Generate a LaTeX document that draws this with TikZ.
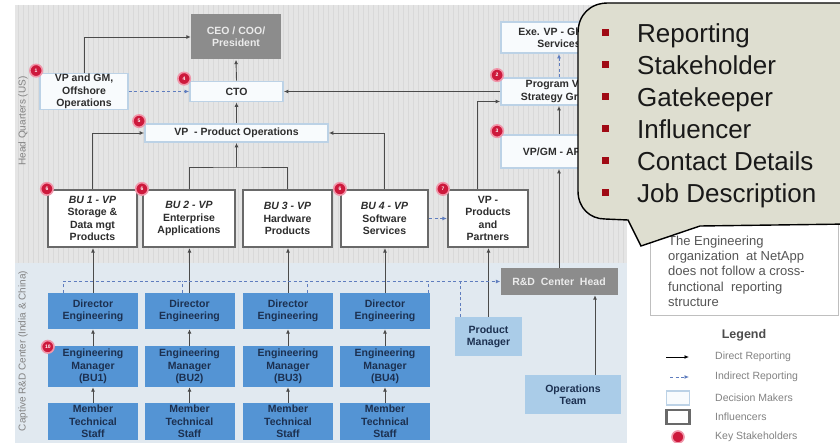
\documentclass[tikz,border=0pt]{standalone}
\usepackage{fontspec}
\setmainfont{Liberation Sans}
\usetikzlibrary{arrows.meta,positioning}

\definecolor{hqgray}{RGB}{229,229,229}
\definecolor{hqstripe}{RGB}{217,217,217}
\definecolor{rdback}{RGB}{225,233,240}
\definecolor{dmline}{RGB}{188,210,230}
\definecolor{dmfill}{RGB}{248,251,253}
\definecolor{inflgray}{RGB}{105,105,105}
\definecolor{boxtext}{RGB}{45,45,45}
\definecolor{darkfill}{RGB}{140,140,140}
\definecolor{engblue}{RGB}{84,148,212}
\definecolor{ltblue}{RGB}{170,204,232}
\definecolor{engtext}{RGB}{28,48,80}
\definecolor{linegray}{RGB}{75,75,75}
\definecolor{indblue}{RGB}{95,125,190}
\definecolor{badgered}{RGB}{205,25,60}
\definecolor{badgepink}{RGB}{240,150,170}
\definecolor{callfill}{RGB}{222,222,208}
\definecolor{bulletred}{RGB}{160,10,20}
\definecolor{notegray}{RGB}{85,85,85}
\definecolor{leggray}{RGB}{130,130,130}

\newcommand{\boxfont}{\fontsize{10.5}{12.3}\selectfont\bfseries}

\tikzset{
  sz/.style 2 args={minimum width=#1, minimum height=#2},
  conn/.style={draw=linegray, line width=0.9pt, -{Latex[length=4.5pt,width=4pt]}},
  plainline/.style={draw=linegray, line width=0.9pt},
  indir/.style={draw=indblue, line width=0.9pt, dash pattern=on 3pt off 2.5pt, -{Latex[length=4.5pt,width=4pt]}},
  indirline/.style={draw=indblue, line width=0.9pt, dash pattern=on 3pt off 2.5pt},
  deci/.style={draw=dmline, line width=1.8pt, fill=dmfill, inner sep=0pt, align=center, font=\boxfont, text=boxtext},
  infl/.style={draw=inflgray, line width=2.2pt, fill=white, inner sep=0pt, align=center, font=\boxfont, text=boxtext},
  darkbox/.style={fill=darkfill, inner sep=0pt, align=center, font=\boxfont, text=white!92!black},
  engbox/.style={fill=engblue, inner sep=0pt, align=center, font=\boxfont, text=engtext},
  ltbox/.style={fill=ltblue, inner sep=0pt, align=center, font=\boxfont, text=engtext},
  badge/.style={circle, fill=badgered, draw=badgepink, line width=1.6pt, minimum size=12.5pt, inner sep=0pt, font=\fontsize{5}{5}\selectfont\bfseries, text=white},
  sidelabel/.style={font=\fontsize{10}{10}\selectfont, text=leggray, inner sep=0pt},
  legtext/.style={font=\fontsize{10.5}{12}\selectfont, text=leggray, inner sep=0pt, anchor=west},
  callout/.style={fill=callfill, draw=black, line width=1.4pt},
  sqbullet/.style={fill=bulletred, minimum size=7pt, inner sep=0pt},
  calltext/.style={font=\fontsize{26}{26}\selectfont, text=black!90, inner sep=0pt}
}

\begin{document}
\begin{tikzpicture}[x=1pt, y=-1pt]
\useasboundingbox (0,0) rectangle (840,443);
\fill[white] (0,0) rectangle (840,443);

% backgrounds
\fill[hqgray] (15,5) rectangle (627,263);
\foreach \sx in {18,23,...,625}
  \draw[hqstripe, line width=0.6pt] (\sx,5) -- (\sx,263);
\fill[rdback] (15,263) rectangle (627,443);
\node[sidelabel, rotate=90] (hqlab) at (23,121) {Head Quarters (US)};
\node[sidelabel, rotate=90] (rdlab) at (23,351) {Captive R\&D Center (India \& China)};

% head quarters
\node[darkbox, sz={90}{45}] (ceo) at (236,37) {CEO / COO/\\President};
\node[deci, sz={88}{36}] (offvp) at (84,91.5) {VP and GM,\\Offshore\\Operations};
\node[deci, sz={93}{20}] (cto) at (236.5,91.5) {CTO};
\node[deci, sz={183}{18}] (vppo) at (236.5,133) {VP\ \ - Product Operations};
\node[deci, sz={116}{31}] (exevp) at (559,37.5) {Exe. VP - Global\\Services};
\node[deci, sz={116}{27}] (progvp) at (559,91.5) {Program VP -\\Strategy Group};
\node[deci, sz={116}{33}] (vpgm) at (559,151.5) {VP/GM - APAC};

\node[infl, sz={89}{57}] (bu1) at (92.5,218.5) {\textit{BU 1 - VP}\\Storage \&\\Data mgt\\Products};
\node[infl, sz={92}{57}] (bu2) at (189,218.5) {\textit{BU 2 - VP}\\Enterprise\\Applications};
\node[infl, sz={89}{57}] (bu3) at (287.5,218.5) {\textit{BU 3 - VP}\\Hardware\\Products};
\node[infl, sz={87}{57}] (bu4) at (384.5,218.5) {\textit{BU 4 - VP}\\Software\\Services};
\node[infl, sz={80}{57}] (vpprod) at (488,218.5) {VP -\\Products\\and\\Partners};

\draw[conn] (offvp.north) |- (ceo.west);
\draw[indir] (offvp.east) -- (cto.west);
\draw[conn] (cto.north) -- (ceo.south);
\draw[conn] (vppo.north) -- (cto.south);
\draw[conn] (progvp.west) -- (cto.east);
\draw[indir] (progvp.north) -- (exevp.south);
\draw[conn] (vpgm.north) -- (progvp.south);
\draw[conn] ([xshift=-11pt]vpprod.north) |- ([yshift=-10pt]progvp.west);
\draw[conn] (bu1.north) |- (vppo.west);
\draw[conn] (bu4.north) |- (vppo.east);
\coordinate (bujoin) at (236.5,167);
\draw[plainline] (bu2.north) |- (bujoin) -| (bu3.north);
\draw[conn] (bujoin) -- (vppo.south);
\draw[indir] (bu4.east) -- (vpprod.west);

% captive R&D center
\foreach \c/\x in {1/93,2/189.5,3/288,4/385}{
  \node[engbox, sz={90}{36}] (dir\c) at (\x,311) {Director\\Engineering};
  \node[engbox, sz={90}{41}] (em\c) at (\x,366.5) {Engineering\\Manager\\(BU\c)};
  \node[engbox, sz={90}{37}] (mts\c) at (\x,421.5) {Member\\Technical\\Staff};
  \draw[conn] (dir\c.north) -- (dir\c.north |- bu\c.south);
  \draw[conn] (em\c.north) -- (dir\c.south);
  \draw[conn] (mts\c.north) -- (em\c.south);
}
\node[darkbox, sz={117}{27}] (rdhead) at (559,281.5) {R\&D\ \ Center\ \ Head};
\node[ltbox, sz={67}{39}] (prodmgr) at (488.5,336.5) {Product\\Manager};
\node[ltbox, sz={96}{39}] (opsteam) at (573,394.5) {Operations\\Team};

\draw[conn] (rdhead.north) -- (vpgm.south);
\draw[conn] ([xshift=22pt]opsteam.north) -- ([xshift=22pt]opsteam.north |- rdhead.south);
\draw[conn] (prodmgr.north) -- (prodmgr.north |- vpprod.south);
\draw[indir] ([xshift=-30pt]dir1.north) |- (rdhead.west);
\draw[indirline] ([xshift=-7pt]dir2.north) -- ([xshift=-7pt]dir2.north |- rdhead.west);
\draw[indirline] ([xshift=19pt]dir3.north) -- ([xshift=19pt]dir3.north |- rdhead.west);
\draw[indirline] ([xshift=43pt]dir4.north) -- ([xshift=43pt]dir4.north |- rdhead.west);
\draw[indirline] ([xshift=-28pt]prodmgr.north) -- ([xshift=-28pt]prodmgr.north |- rdhead.west);

% key stakeholders
\node[badge] (kb1) at ([shift={(-3pt,2pt)}]offvp.north west) {1};
\node[badge] (kb2) at ([shift={(-3pt,2pt)}]progvp.north west) {2};
\node[badge] (kb3) at ([shift={(-3pt,3pt)}]vpgm.north west) {3};
\node[badge] (kb4) at ([shift={(-5pt,2pt)}]cto.north west) {4};
\node[badge] (kb5) at ([shift={(-5pt,2pt)}]vppo.north west) {5};
\node[badge] (kb6) at (bu1.north west) {6};
\node[badge] (kb7) at (bu2.north west) {6};
\node[badge] (kb8) at (bu4.north west) {6};
\node[badge] (kb9) at ([shift={(-4pt,0pt)}]vpprod.north west) {7};
\node[badge] (kb10) at ([shift={(0pt,-1pt)}]em1.north west) {10};

% note and legend
\draw[draw=black!25, line width=0.8pt, fill=white] (650,200) rectangle (838,315);
\node[anchor=north west, align=left, inner sep=0pt, font=\fontsize{13}{15.3}\selectfont, text=notegray] (notetxt) at (668,235.5)
  {The Engineering\\organization\ \ at NetApp\\does not follow a cross-\\functional\ \ reporting\\structure};
\node[font=\fontsize{12.5}{12.5}\selectfont\bfseries, text=black!70, inner sep=0pt] (legtitle) at (744,335) {Legend};
\coordinate (lda) at (666,357);
\coordinate (ldb) at (689,357);
\draw[conn, draw=black] (lda) -- (ldb);
\node[legtext] (lt1) at (715,357) {Direct Reporting};
\coordinate (lia) at (670,377);
\coordinate (lib) at (689,377);
\draw[indir] (lia) -- (lib);
\node[legtext] (lt2) at (715,377) {Indirect Reporting};
\node[deci, sz={23}{14}] (ldm) at (678,398) {};
\node[legtext] (lt3) at (715,398) {Decision Makers};
\node[infl, sz={23}{14}] (lin) at (678,417) {};
\node[legtext] (lt4) at (715,417) {Influencers};
\node[badge, minimum size=12pt] (lks) at (678,437) {};
\node[legtext] (lt5) at (715,437) {Key Stakeholders};

% callout
\draw[callout] (578,33) .. controls (578,15) and (590,3) .. (608,3) -- (850,3) -- (850,224)
  -- (700,226) -- (641,246) -- (628,220) -- (605,219) .. controls (590,219) and (578,208) .. (578,191) -- cycle;
\foreach \itm [count=\i] in {Reporting,Stakeholder,Gatekeeper,Influencer,Contact Details,Job Description}{
  \node[sqbullet] (sq\i) at (605,{1+32*\i}) {};
  \node[calltext, anchor=base west] (it\i) at (637,{11+32*\i}) {\itm};
}
\end{tikzpicture}
\end{document}
